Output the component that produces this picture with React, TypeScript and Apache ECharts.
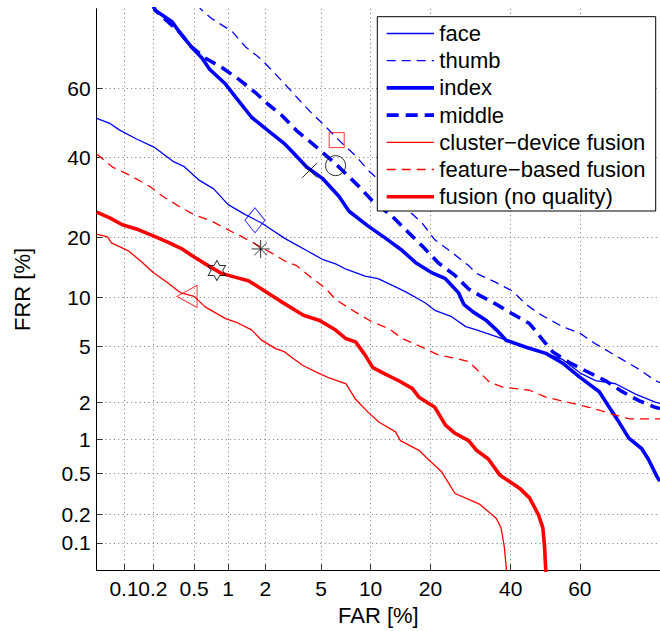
import React, { useEffect, useRef } from "react";
import * as echarts from "echarts";

// ---- axis ticks (percent) ----
const tickValues = [0.1, 0.2, 0.5, 1, 2, 5, 10, 20, 40, 60];
const tickLabels = ["0.1", "0.2", "0.5", "1", "2", "5", "10", "20", "40", "60"];
const axisMinPct = 0.05;
const axisMaxPct = 80;

// ---- series data: [FAR %, FRR %] ----
const face = [
  [0.05, 51.4], [0.069, 50], [0.089, 48], [0.134, 45.4], [0.21, 42.8], [0.32, 38.8], [0.4, 37.5],
  [0.55, 33.8], [0.75, 31.4], [1, 27.4], [1.39, 25], [1.87, 23.1], [2.8, 19.8], [3.2, 18.9],
  [4, 17.4], [5.1, 15.8], [6.2, 15], [7.2, 14.1], [9.3, 13], [11, 12.6], [13.1, 11.6], [15.3, 10.7],
  [18.9, 9.3], [20.9, 8.4], [24.6, 7.7], [28, 6.7], [30.7, 6.4], [36, 5.8], [38.7, 5.5], [45.4, 4.8],
  [50.2, 4.5], [55, 4.1], [60, 3.3], [64.4, 2.9], [69.7, 2.75], [74.6, 2.3], [79, 2.0], [80, 1.95],
];
const thumb = [
  [0.54, 81], [0.57, 80], [0.72, 77.9], [1.08, 75], [1.39, 71.3], [1.87, 68], [2.4, 64], [2.8, 61.3],
  [3.6, 56.5], [4.4, 52.6], [5.4, 48.8], [6.5, 45], [8.2, 40.5], [9.7, 36.4], [12.6, 31.2],
  [15.3, 26.6], [18.3, 23.1], [20.9, 19.5], [24.6, 17.1], [28.7, 14.7], [30.7, 13.4], [36, 12],
  [40.5, 10.8], [44.4, 9.1], [48.3, 8], [55, 6.7], [60, 6.1], [64.4, 5.2], [71.3, 4.1], [75.4, 3.5],
  [79, 2.9], [80, 2.8],
];
const index = [
  [0.2, 81], [0.21, 79.7], [0.31, 77.2], [0.36, 75], [0.47, 71.3], [0.59, 68.4], [0.69, 65.4],
  [0.95, 61.3], [1.16, 57.5], [1.56, 51.7], [2.1, 47.8], [2.8, 43.9], [3.2, 41.5], [4, 37.3],
  [5.1, 34.2], [6.5, 29.5], [7.5, 25.8], [9.7, 22.4], [12.1, 19.8], [14.7, 17.4], [17.1, 15.2],
  [20.1, 13.6], [23.2, 12.6], [26.2, 10.6], [27.5, 9.1], [29.9, 8.2], [33.3, 7.3], [36, 6.4],
  [38.7, 5.5], [44.4, 4.95], [50.2, 4.5], [55, 3.87], [59.8, 3.1], [65.4, 2.4], [67.8, 1.87],
  [70.6, 1.38], [73, 1.02], [76, 0.83], [77.5, 0.67], [79.4, 0.46], [80, 0.42],
];
const middle = [
  [0.2, 81], [0.21, 79.7], [0.36, 75], [0.47, 71.3], [0.63, 68.4], [0.89, 65.8], [1.23, 62.6],
  [1.67, 58.9], [2.1, 55.5], [2.67, 52.2], [3.4, 47.8], [4.4, 43.9], [6.2, 38.2], [8.6, 32],
  [10.1, 28.6], [13.1, 24.6], [15.3, 21.6], [18.3, 18.3], [21.6, 15.2], [25.4, 13.1], [28.7, 11.1],
  [31.6, 10.2], [36, 9.1], [40.5, 8], [45.4, 7], [49.3, 5.5], [52.2, 4.6], [57, 3.9], [61.7, 3.4],
  [67, 2.9], [71.4, 2.4], [75.4, 2.05], [79, 1.82], [80, 1.78],
];
const clusterFusion = [
  [0.05, 20.7], [0.066, 20.1], [0.073, 18.9], [0.11, 17.4], [0.15, 15.5], [0.2, 13.6], [0.28, 12],
  [0.37, 10.6], [0.5, 10.1], [0.63, 8.8], [0.95, 7.5], [1.16, 7.15], [1.56, 6.4], [1.87, 5.5],
  [2.4, 4.84], [2.8, 4.6], [3.2, 4.17], [3.8, 3.7], [4.85, 3.27], [5.65, 3.03], [7.2, 2.74],
  [8.2, 2.1], [9.7, 1.66], [11.1, 1.39], [13.6, 1.15], [14.4, 0.97], [17.7, 0.8], [20.1, 0.63],
  [22.4, 0.51], [25.4, 0.32], [28.7, 0.28], [31.6, 0.25], [36, 0.18], [37.3, 0.144], [38.2, 0.09],
  [38.8, 0.05], [38.9, 0.045],
];
const featureFusion = [
  [0.05, 41], [0.075, 37.3], [0.114, 35.1], [0.187, 32], [0.25, 29.5], [0.36, 27], [0.5, 25],
  [0.72, 23.5], [1, 21.6], [1.31, 20.1], [1.77, 18.3], [2.4, 16.5], [2.8, 15.5], [3.4, 14.7],
  [4.4, 12.6], [5.4, 11.1], [6.2, 9.7], [8.2, 8.2], [10.1, 7.2], [12.6, 6.5], [14.7, 5.64],
  [18.3, 4.95], [21.6, 4.4], [25.4, 4.17], [28.7, 3.96], [30.7, 3.5], [34.2, 2.81], [37.8, 2.6],
  [45.4, 2.46], [50.2, 2.18], [57, 1.98], [62.6, 1.82], [68.8, 1.61], [73.2, 1.47], [80, 1.47],
];
const fusionNoQuality = [
  [0.05, 25.6], [0.069, 24.3], [0.096, 22.7], [0.143, 21.6], [0.213, 20.1], [0.27, 19.2],
  [0.386, 17.7], [0.5, 16.2], [0.67, 14.7], [0.88, 13.4], [1.16, 12.8], [1.47, 12.3], [1.87, 11.1],
  [2.6, 9.5], [3.8, 7.86], [4.85, 7.34], [6.2, 6.38], [7.15, 5.64], [8.2, 5.36], [9.3, 4.4],
  [10.3, 3.59], [12.1, 3.22], [14.2, 2.88], [16.5, 2.53], [17.7, 2.18], [20.9, 1.82], [23.2, 1.31],
  [25.4, 1.12], [28.7, 0.97], [30.7, 0.8], [33.8, 0.67], [36.9, 0.48], [42.5, 0.36], [45.4, 0.29],
  [48, 0.197], [49.3, 0.144], [49.8, 0.09], [50.2, 0.045],
];

const seriesNames = [
  "face", "thumb", "index", "middle",
  "cluster\u2212device fusion", "feature\u2212based fusion", "fusion (no quality)",
];
const seriesData = [face, thumb, index, middle, clusterFusion, featureFusion, fusionNoQuality];

// operating-point markers [FAR %, FRR %]
const markerFar = [6.3, 6.2, 4.2, 1.66, 1.84, 0.8, 0.43];
const markerFrr = [45, 37.7, 36.4, 23.7, 17.7, 13.9, 10.1];

// ---- styles ----
const BLUE = "#0000ff";
const RED = "#ff0000";
const seriesStyles = [
  { color: BLUE, width: 1.3, dash: "solid" as any },
  { color: BLUE, width: 1.3, dash: [9, 6] },
  { color: BLUE, width: 3.6, dash: "solid" as any },
  { color: BLUE, width: 3.6, dash: [12, 7] },
  { color: RED, width: 1.3, dash: "solid" as any },
  { color: RED, width: 1.3, dash: [9, 6] },
  { color: RED, width: 3.6, dash: "solid" as any },
];
const markerStyles = [
  { symbol: "rect", size: 15, color: RED },
  { symbol: "circle", size: 20, color: "#000" },
  { symbol: "path://M0 0L10 10M10 0L0 10", size: 15, color: "#000" },
  { symbol: "diamond", size: [20, 25], color: BLUE },
  { symbol: "path://M0 5L10 5M5 0L5 10M1.46 1.46L8.54 8.54M8.54 1.46L1.46 8.54", size: 18, color: "#000" },
  {
    symbol:
      "path://M0 -10L-2.887 -5L-8.66 -5L-5.774 0L-8.66 5L-2.887 5L0 10L2.887 5L8.66 5L5.774 0L8.66 -5L2.887 -5Z",
    size: [17.3, 20],
    color: "#000",
  },
  { symbol: "path://M0 5L10 0L10 10Z", size: [20, 22], color: RED },
];

const FONT = "'Liberation Sans', Arial, Helvetica, sans-serif";

function normInv(p: number): number {
  const a = [-3.969683028665376e1, 2.209460984245205e2, -2.759285104469687e2, 1.38357751867269e2, -3.066479806614716e1, 2.506628277459239];
  const b = [-5.447609879822406e1, 1.615858368580409e2, -1.556989798598866e2, 6.680131188771972e1, -1.328068155288572e1];
  const c = [-7.784894002430293e-3, -3.223964580411365e-1, -2.400758277161838, -2.549732539343734, 4.374664141464968, 2.938163982698783];
  const d = [7.784695709041462e-3, 3.224671290700398e-1, 2.445134137142996, 3.754408661907416];
  const pl = 0.02425;
  const ph = 1 - pl;
  let q: number;
  let r: number;
  if (p < pl) {
    q = Math.sqrt(-2 * Math.log(p));
    return (((((c[0] * q + c[1]) * q + c[2]) * q + c[3]) * q + c[4]) * q + c[5]) / ((((d[0] * q + d[1]) * q + d[2]) * q + d[3]) * q + 1);
  }
  if (p <= ph) {
    q = p - 0.5;
    r = q * q;
    return ((((((a[0] * r + a[1]) * r + a[2]) * r + a[3]) * r + a[4]) * r + a[5]) * q) / (((((b[0] * r + b[1]) * r + b[2]) * r + b[3]) * r + b[4]) * r + 1);
  }
  q = Math.sqrt(-2 * Math.log(1 - p));
  return -(((((c[0] * q + c[1]) * q + c[2]) * q + c[3]) * q + c[4]) * q + c[5]) / ((((d[0] * q + d[1]) * q + d[2]) * q + d[3]) * q + 1);
}
const dev = (pct: number) => normInv(pct / 100);

export default function App() {
  const ref = useRef<HTMLDivElement>(null);
  useEffect(() => {
    if (!ref.current) return;
    const chart = echarts.init(ref.current, undefined, { renderer: "svg" });
    const tickDev = tickValues.map(dev);
    const fmt = (v: number) => {
      for (let i = 0; i < tickDev.length; i++) if (Math.abs(tickDev[i] - v) < 1e-6) return tickLabels[i];
      return " ";
    };
    const axisCommon = {
      type: "value" as const,
      min: dev(axisMinPct),
      max: dev(axisMaxPct),
      axisLine: { show: true, onZero: false, lineStyle: { color: "#000", width: 1 } },
      axisTick: { show: true, inside: true, length: 6, customValues: tickDev, lineStyle: { color: "#333", width: 1 } },
      splitLine: { show: true, lineStyle: { color: "#777", width: 1, type: [1, 3.3] } },
      nameLocation: "middle" as const,
      nameTextStyle: { fontSize: 22, color: "#000", fontFamily: FONT },
    };
    const labelCommon = {
      formatter: fmt,
      hideOverlap: false,
      showMinLabel: true,
      showMaxLabel: true,
      fontSize: 21,
      color: "#000",
      fontFamily: FONT,
    };
    const lineSeries = seriesData.map((data, i) => ({
      type: "line",
      name: seriesNames[i],
      data: data.map((p) => [dev(p[0]), dev(p[1])]),
      symbol: "none",
      showSymbol: false,
      lineStyle: { color: seriesStyles[i].color, width: seriesStyles[i].width, type: seriesStyles[i].dash },
      itemStyle: { color: seriesStyles[i].color },
      z: 3,
      clip: true,
    }));
    const markerSeries = {
      type: "scatter",
      name: "operating points",
      z: 5,
      data: markerFar.map((x, i) => ({
        value: [dev(x), dev(markerFrr[i])],
        symbol: markerStyles[i].symbol,
        symbolSize: markerStyles[i].size,
        itemStyle: { color: "rgba(0,0,0,0)", borderColor: markerStyles[i].color, borderWidth: 1 },
      })),
    };
    const lx1 = 386.7, lx2 = 434, tx = 439.3, rowY0 = 33.5, rowStep = 27.2;
    const legendEls: any[] = [
      {
        type: "rect",
        shape: { x: 377.3, y: 16.7, width: 278.4, height: 194.3 },
        style: { fill: "#fff", stroke: "#000", lineWidth: 1 },
        z: 100,
      },
    ];
    seriesNames.forEach((n, i) => {
      const y = rowY0 + i * rowStep;
      const st = seriesStyles[i];
      legendEls.push({
        type: "line",
        shape: { x1: lx1, y1: y, x2: lx2, y2: y },
        style: { stroke: st.color, lineWidth: st.width, lineDash: Array.isArray(st.dash) ? st.dash : null },
        z: 101,
      });
      legendEls.push({
        type: "text",
        x: tx,
        y: y,
        style: { text: n, fontSize: 22, fontFamily: FONT, fill: "#000", textVerticalAlign: "middle", textAlign: "left" },
        z: 101,
      });
    });
    chart.setOption({
      animation: false,
      backgroundColor: "#fff",
      grid: { left: 96.7, top: 8.7, width: 566.2, height: 567.2, containLabel: false },
      xAxis: {
        ...axisCommon,
        name: "FAR [%]",
        nameGap: 29,
        // a blank label at the axis minimum keeps the crowded 0.1 / 0.2 pair both visible
        axisLabel: { ...labelCommon, customValues: [dev(axisMinPct), ...tickDev], margin: 8 },
      },
      yAxis: {
        ...axisCommon,
        name: "FRR [%]",
        nameGap: 63,
        nameRotate: 90,
        axisLabel: { ...labelCommon, customValues: tickDev, margin: 6 },
      },
      series: [...lineSeries, markerSeries],
      graphic: legendEls,
    });
    return () => chart.dispose();
  }, []);
  return <div ref={ref} style={{ position: "absolute", left: 0, top: 0, width: 660, height: 631 }} />;
}
